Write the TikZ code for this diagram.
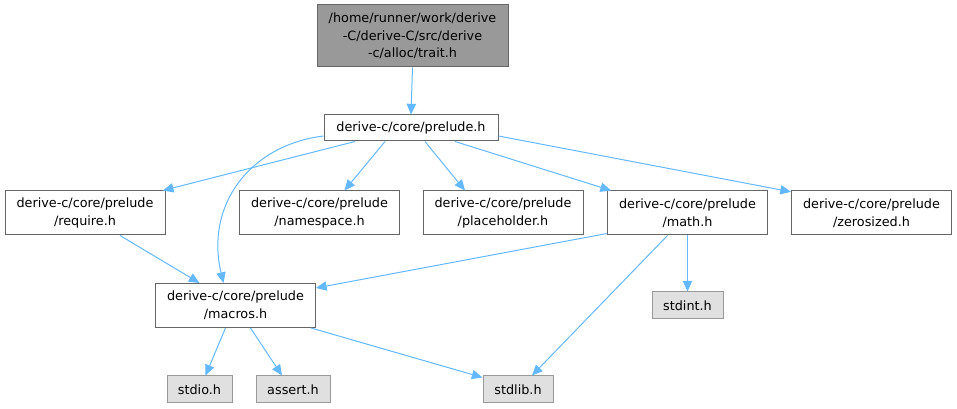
\documentclass[tikz,border=0pt]{standalone}
\usepackage{fontspec}
\setmainfont{DejaVu Sans}
\usetikzlibrary{arrows.meta}
\definecolor{edgec}{HTML}{63B8FF}
\definecolor{rootfill}{HTML}{999999}
\definecolor{rootdraw}{HTML}{666666}
\definecolor{sysfill}{HTML}{E0E0E0}
\definecolor{sysdraw}{HTML}{999999}
\begin{document}
\begin{tikzpicture}[x=0.75pt,y=-0.75pt,
  every node/.style={font=\fontsize{9.6}{13.2}\selectfont, inner sep=0pt, align=center},
  filebox/.style={draw=rootdraw, fill=white, line width=0.75pt, minimum height=33pt},
  rootbox/.style={draw=rootdraw, fill=rootfill, line width=0.75pt},
  sysbox/.style={draw=sysdraw, fill=sysfill, line width=0.75pt, minimum height=20.25pt},
  dep/.style={draw=edgec, line width=0.75pt, -{Triangle[length=8pt,width=7pt]}}
]
\useasboundingbox (0,0) rectangle (957,409);
\node[rootbox, minimum width=143.25pt, minimum height=46.5pt] (root) at (412.5,36)
  {/home/runner/work/derive\\-C/derive-C/src/derive\hspace{20pt}\\-c/alloc/trait.h};
\node[filebox, minimum width=130.5pt, minimum height=19.5pt] (prelude) at (411,128) {derive-c/core/prelude.h};
\node[filebox, minimum width=120pt] (require) at (85,213) {derive-c/core/prelude\\/require.h};
\node[filebox, minimum width=120pt] (namespace) at (319.5,213) {derive-c/core/prelude\\/namespace.h};
\node[filebox, minimum width=120pt] (placeholder) at (503,213) {derive-c/core/prelude\\/placeholder.h};
\node[filebox, minimum width=120pt] (math) at (687.5,213) {derive-c/core/prelude\\/math.h};
\node[filebox, minimum width=120pt] (zerosized) at (871.5,213) {derive-c/core/prelude\\/zerosized.h};
\node[filebox, minimum width=120pt] (macros) at (235.5,305.5) {derive-c/core/prelude\\/macros.h};
\node[sysbox, minimum width=48.75pt] (stdio) at (199.5,389.5) {stdio.h};
\node[sysbox, minimum width=55.5pt] (assert) at (293,389.5) {assert.h};
\node[sysbox, minimum width=52.5pt] (stdlib) at (518,389.5) {stdlib.h};
\node[sysbox, minimum width=53.25pt] (stdint) at (687.5,305.5) {stdint.h};

\draw[dep] (root.south) -- (prelude.north);
\draw[dep] ([xshift=-42pt]prelude.south) -- ([xshift=-2pt]require.north east);
\draw[dep] ([yshift=-6pt]prelude.west) .. controls (250,145) and (205,205) .. ([xshift=-9pt]macros.north);
\draw[dep] ([xshift=-19.5pt]prelude.south) -- ([xshift=18.75pt]namespace.north);
\draw[dep] ([xshift=10.5pt]prelude.south) -- ([xshift=-28.5pt]placeholder.north);
\draw[dep] ([xshift=33pt]prelude.south) -- ([xshift=3pt]math.north west);
\draw[dep] ([yshift=-6pt]prelude.east) -- ([yshift=-1pt]zerosized.north west);
\draw[dep] ([xshift=26.25pt]require.south) -- ([xshift=-27pt]macros.north);
\draw[dep] ([yshift=1.5pt]math.south west) -- ([yshift=-3.75pt]macros.north east);
\draw[dep] (math.south) -- (stdint.north);
\draw[dep] ([xshift=-15pt]math.south) -- ([xshift=10.5pt]stdlib.north);
\draw[dep] ([xshift=-7.5pt]macros.south) -- ([xshift=4.5pt]stdio.north);
\draw[dep] ([xshift=11.25pt]macros.south) -- ([xshift=-8.25pt]assert.north);
\draw[dep] ([xshift=-3.75pt]macros.south east) -- ([yshift=-1.5pt]stdlib.north west);
\end{tikzpicture}
\end{document}
